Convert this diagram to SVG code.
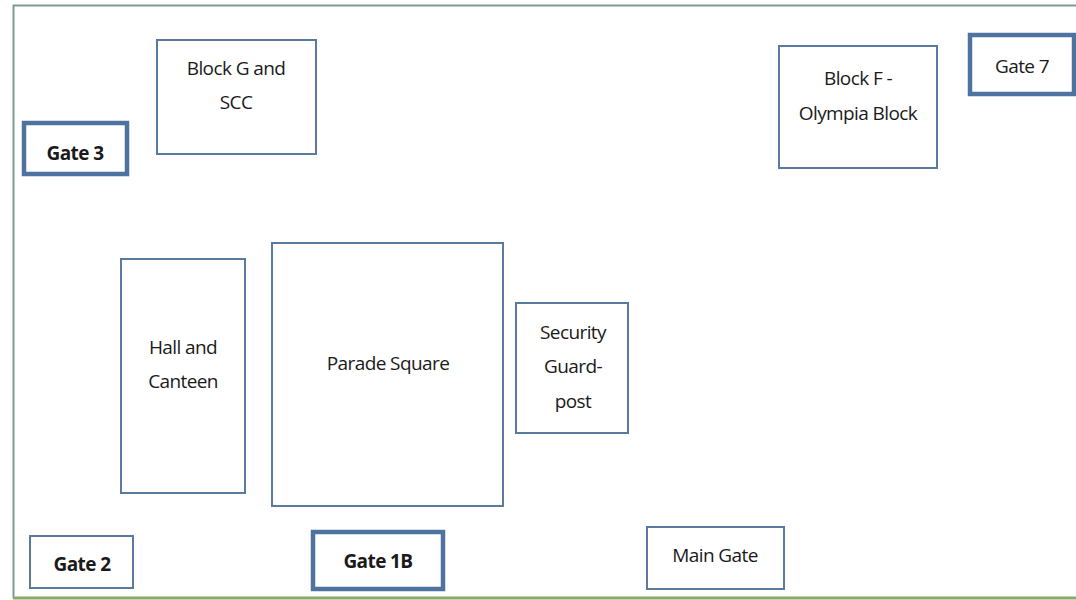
<svg xmlns="http://www.w3.org/2000/svg" width="1076" height="600" viewBox="0 0 1076 600">
<style>
.b{fill:#fff;stroke:#5a7aa0;stroke-width:2}
.g{fill:#fff;stroke:#4f73a0;stroke-width:4.5}
text{font-family:"Open Sans","Liberation Sans",sans-serif;font-size:19px;fill:#1a1a1a;text-anchor:middle;letter-spacing:-0.6px}
.t{font-weight:bold}
</style>
<rect x="0" y="0" width="1076" height="600" fill="#fff"/>
<g id="frame">
<line x1="13" y1="5.5" x2="1076" y2="5.5" stroke="#7d9c90" stroke-width="2"/>
<line x1="13.5" y1="5" x2="13.5" y2="598" stroke="#7d9c90" stroke-width="2"/>
<line x1="13" y1="598" x2="1076" y2="598" stroke="#87ab6c" stroke-width="3"/>
</g>
<g id="block-g"><rect class="b" x="157" y="40" width="159" height="114"/><text x="236" y="75">Block G and</text><text x="236" y="109">SCC</text></g>
<g id="gate-3"><rect class="g" x="24" y="123" width="103" height="51"/><text class="t" x="75" y="160">Gate 3</text></g>
<g id="block-f"><rect class="b" x="779" y="46" width="158" height="122"/><text x="858" y="85">Block F -</text><text x="858" y="120">Olympia Block</text></g>
<g id="gate-7"><rect class="g" x="970" y="35" width="104" height="59"/><text x="1022" y="73">Gate 7</text></g>
<g id="hall"><rect class="b" x="121" y="259" width="124" height="234"/><text x="183" y="354">Hall and</text><text x="183" y="388">Canteen</text></g>
<g id="parade"><rect class="b" x="272" y="243" width="231" height="263"/><text x="388" y="370">Parade Square</text></g>
<g id="security"><rect class="b" x="516" y="303" width="112" height="130"/><text x="573" y="339">Security</text><text x="573" y="373">Guard-</text><text x="573" y="408">post</text></g>
<g id="gate-2"><rect class="b" x="30" y="536" width="103" height="52"/><text class="t" x="82" y="571">Gate 2</text></g>
<g id="gate-1b"><rect class="g" x="313" y="532" width="130" height="57"/><text class="t" x="378" y="568">Gate 1B</text></g>
<g id="main-gate"><rect class="b" x="647" y="527" width="137" height="62"/><text x="715" y="562">Main Gate</text></g>
<g id="connectors"/>
</svg>
